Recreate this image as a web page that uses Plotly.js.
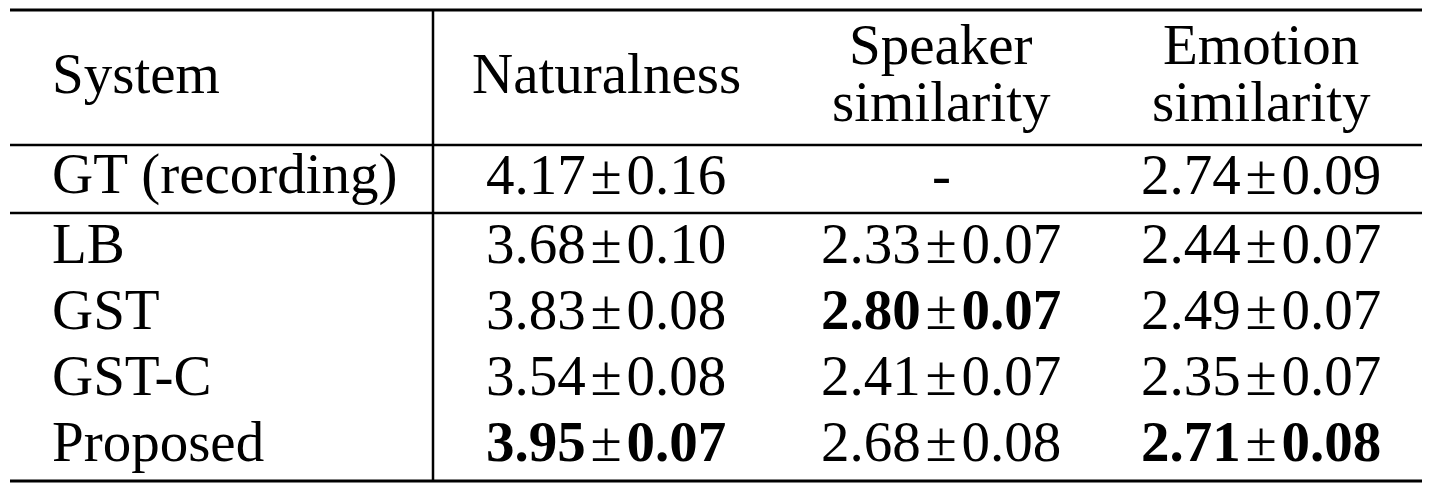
<!DOCTYPE html>
<html>
<head>
<meta charset="utf-8">
<script src="https://cdn.plot.ly/plotly-3.0.1.min.js"></script>
<style>html,body{margin:0;padding:0;background:#fff;}#chart{width:1437px;height:493px;}</style>
</head>
<body>
<div id="chart"></div>
<script>
// ---- data ----
const headers = ['System', 'Naturalness', 'Speaker<br>similarity', 'Emotion<br>similarity'];
const systems = ['GT (recording)', 'LB', 'GST', 'GST-C', 'Proposed'];
const naturalness = [4.17, 3.68, 3.83, 3.54, 3.95];
const naturalnessCI = [0.16, 0.10, 0.08, 0.08, 0.07];
const speakerSim = [null, 2.33, 2.80, 2.41, 2.68];
const speakerSimCI = [null, 0.07, 0.07, 0.07, 0.08];
const emotionSim = [2.74, 2.44, 2.49, 2.35, 2.71];
const emotionSimCI = [0.09, 0.07, 0.07, 0.07, 0.08];

// ---- layout constants ----
const W = 1437, H = 493;
const FONT = {family: '"Liberation Serif", "Times New Roman", serif', size: 57, color: '#000'};
const tableLeft = 10, tableRight = 1422, vLineX = 433;
const topY = 10, headLineY = 145, gtLineY = 213, bottomY = 481;
const firstColX = 50;
const colCenters = [606, 941, 1261];
const headerMidY = 73, headerLine1Y = 44, headerLine2Y = 101;
const rowY = [174, 243, 309, 375, 441];
const PM = '\u200A±\u200A';

const metrics = [
  {v: naturalness, e: naturalnessCI},
  {v: speakerSim, e: speakerSimCI},
  {v: emotionSim, e: emotionSimCI}
];

const ann = [];
function addText(text, x, y, xanchor) {
  ann.push({text: text, x: x, y: y, xref: 'x', yref: 'y', xanchor: xanchor, yanchor: 'middle',
            showarrow: false, font: FONT, align: 'center'});
}

// headers
headers.forEach((h, i) => {
  const lines = h.split('<br>');
  const x = i === 0 ? firstColX : colCenters[i - 1];
  const xa = i === 0 ? 'left' : 'center';
  if (lines.length === 1) addText(lines[0], x, headerMidY, xa);
  else { addText(lines[0], x, headerLine1Y, xa); addText(lines[1], x, headerLine2Y, xa); }
});

// body
systems.forEach((s, r) => {
  addText(s, firstColX, rowY[r], 'left');
  metrics.forEach((m, c) => {
    let txt;
    if (m.v[r] === null) txt = '-';
    else {
      const best = Math.max(...m.v.slice(1).filter(v => v !== null));
      const isBest = r > 0 && m.v[r] === best;
      const a = m.v[r].toFixed(2), b = m.e[r].toFixed(2);
      txt = isBest ? '<b>' + a + '</b>' + PM + '<b>' + b + '</b>' : a + PM + b;
    }
    addText(txt, colCenters[c], rowY[r], 'center');
  });
});

const line = (x0, y0, x1, y1, w) => ({type: 'line', xref: 'x', yref: 'y', x0, y0, x1, y1,
  line: {color: '#000', width: w}});
const shapes = [
  line(tableLeft, topY, tableRight, topY, 3),
  line(tableLeft, headLineY, tableRight, headLineY, 2.5),
  line(tableLeft, gtLineY, tableRight, gtLineY, 2.5),
  line(tableLeft, bottomY, tableRight, bottomY, 3),
  line(vLineX, topY, vLineX, bottomY, 2.5)
];

const layout = {
  width: W, height: H,
  margin: {l: 0, r: 0, t: 0, b: 0},
  paper_bgcolor: '#fff', plot_bgcolor: '#fff',
  xaxis: {range: [0, W], visible: false, fixedrange: true},
  yaxis: {range: [H, 0], visible: false, fixedrange: true},
  showlegend: false,
  annotations: ann,
  shapes: shapes
};

Plotly.newPlot('chart', [{x: [], y: [], type: 'scatter', mode: 'markers', hoverinfo: 'skip'}], layout,
  {staticPlot: true, displayModeBar: false});
</script>
</body>
</html>
